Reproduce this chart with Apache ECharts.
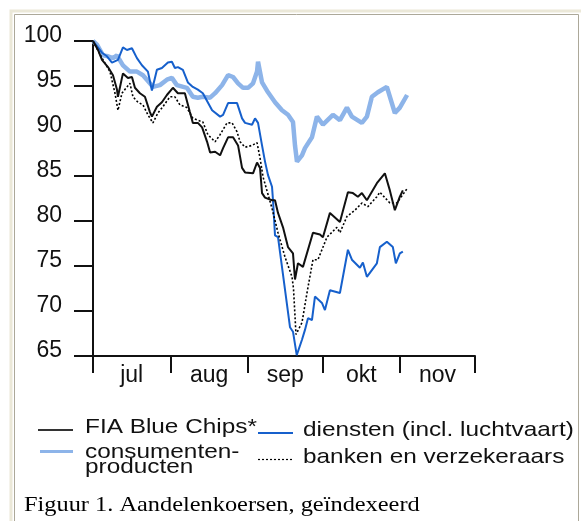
<!DOCTYPE html>
<html lang="nl">
<head>
    <meta charset="UTF-8">
    <title>Aandelenkoersen</title>
    <script src="https://cdn.jsdelivr.net/npm/echarts@6/dist/echarts.min.js"></script>
    <style>
        html, body { margin: 0; padding: 0; background: #fff; }
        #chart { width: 581px; height: 521px; }
    </style>
</head>
<body>
<div id="chart"></div>
<script type="text/javascript">
    // maanden op de x-as (dagen vanaf 1 juli)
    var monthNames = ['jul', 'aug', 'sep', 'okt', 'nov'];
    var monthStarts = [0, 31, 62, 92, 123, 153];
    var monthMids = monthNames.map(function (m, i) { return (monthStarts[i] + monthStarts[i + 1]) / 2; });

    // [dag, index]
    var fiaBlueChips = [[0,100],[2,99],[3.6,97.9],[6,97.1],[8,96.2],[9.6,94.6],[10,93.8],[11.6,95.9],[12,96.4],[14,95.9],
        [15.6,96],[16.8,94.8],[18.8,94.2],[20.8,93.8],[22.8,92.1],[23.6,91.6],[25.6,92.7],[27.6,93.2],[29.6,94],[32,94.8],
        [34,94.2],[36.8,94.2],[38.8,92.1],[40,90.9],[42,90.9],[43.7,90.4],[45.7,88.8],[46.9,87.6],[48.9,87.7],[50.9,87.3],
        [52.1,88.1],[54.1,89.3],[56.1,89.3],[58.1,88.4],[59.7,85.9],[60.9,85.4],[64.1,85.3],[65.7,86.5],[66.9,85.9],[67.7,83.1],
        [68.9,82.6],[71.7,82.3],[72.9,82.3],[74.1,80.9],[76.1,79.3],[78.1,77.1],[80.1,76.4],[80.9,73.5],[82.1,75.3],[84.1,74.9],
        [84.9,74.8],[88.1,78.7],[90.9,78.5],[92.1,78.2],[94.9,80.9],[96.9,80.4],[98.9,79.9],[102.1,83.2],[104.1,83.1],[106.1,82.7],
        [107.7,83.1],[109.7,82.3],[113.7,84.2],[116.9,85.3],[118.9,83.4],[120.9,81.2],[122.9,82.7],[124.1,83.4]];

    var diensten = [[0,100],[3.6,98.7],[5.6,98.3],[7.6,97.6],[10,97.9],[12,99.3],[13.6,99],[15.6,99.2],[17.6,98.1],[19.6,97.3],
        [22,96.6],[23.6,94.5],[25.6,96.8],[27.6,97],[30,97.6],[31.6,97.7],[32.8,97],[34,97.1],[36,96.8],[38,95.4],
        [40,94.9],[42,94.6],[44,94.2],[47.7,92.3],[50.9,91.6],[52.1,91.8],[54.1,93.1],[57.7,93.1],[59.7,91.4],[60.9,90.9],
        [63.7,90.7],[64.9,91.4],[66.1,90.9],[67.7,88.4],[68.9,86.6],[70.1,85.1],[71.7,83.8],[72.1,82.3],[72.9,78.4],[74.1,78.2],
        [78.9,68.2],[80.1,67.7],[81.6,65.1],[83.7,66.8],[84.9,67.9],[86.1,69.2],[87.7,69],[88.9,71.6],[91.7,70.9],[92.9,70.1],
        [94.9,72.3],[98.9,72],[102.1,76.8],[103.7,75.7],[106.9,74.8],[108.1,75.4],[109.7,73.8],[113.7,75.3],[114.9,77.1],[117.7,77.7],
        [120.1,77.1],[121.3,75.3],[122.9,76.4],[124.1,76.6]];

    var consumentenproducten = [[0,100],[1.6,99.6],[4,98.4],[6,98.3],[8,98.1],[9.6,98.4],[12,97.3],[14.8,96.6],[17.6,96.6],[20,96.2],
        [22.8,95.3],[24,94.9],[26.8,95.1],[29.6,95.7],[31.6,95.9],[33.6,95.1],[37.6,94.8],[40,93.8],[42,93.7],[44,93.8],
        [46.9,93.7],[48.9,94.2],[51.7,95.1],[54.1,96.2],[56.1,96],[58.1,95.3],[60.1,94.8],[62.1,94.8],[64.1,95.3],[65.7,96.6],
        [66.1,97.7],[67.7,95.4],[70.1,94.3],[72.9,93.2],[75.7,92.3],[78.1,91.8],[80.1,91],[80.9,88.4],[81.7,86.6],[83.7,87.3],
        [84.9,88.1],[87.7,89.3],[89.7,91.6],[92.1,90.7],[96.1,91.8],[98.9,91.2],[101.7,92.6],[103.7,91.6],[107.7,90.9],[109.7,91.6],
        [111.7,93.8],[114.1,94.3],[117.7,94.9],[120.9,92],[122.9,92.6],[125.8,94]];

    var bankenVerzekeraars = [[0,100],[3.6,98.1],[6.8,96.6],[8.8,94.2],[10,92.3],[11.6,94.2],[13.6,94.9],[14.8,95.3],[16,93.8],[18,93.2],
        [20,92.9],[22,91.8],[24,90.9],[26,92],[28,92.7],[30.8,93.8],[32.8,93.8],[34.8,92.9],[37.6,92.6],[40,91.4],
        [42,91.2],[44,91],[46,89.6],[48.9,88.8],[50.9,89.6],[53.7,90.9],[55.7,90.9],[57.7,89.9],[58.9,88.8],[60.9,88.2],
        [63.7,88.4],[65.7,88.7],[66.9,87],[68.1,84.9],[71.7,81.4],[74.1,78.7],[76.9,76],[79.7,73.8],[80.3,72.5],[81.3,67.4],
        [83.7,68.7],[85.7,72],[88.1,75.7],[90.1,75.7],[93.7,78.2],[97.7,79.3],[98.9,78.7],[101.7,80.5],[104.9,81.2],[107.7,82],
        [110.1,81.6],[113.7,82.7],[114.9,83.2],[118.9,82],[121.7,82],[125.8,83.6]];

    var font = '"Liberation Sans", Arial, sans-serif';
    var ink = '#111';
    var cBlack = '#111', cBlue = '#1660cc', cLight = '#8db4e9';

    // legenda: tekst iets breed getrokken zoals in het origineel
    function legendLine(x1, x2, y, color, width, dash) {
        return { type: 'line', silent: true, shape: { x1: x1, y1: y, x2: x2, y2: y },
                 style: { stroke: color, lineWidth: width, lineDash: dash || null } };
    }
    function legendText(x, y, text) {
        return { type: 'text', silent: true, x: x, y: y, scaleX: 1.16,
                 style: { text: text, fill: ink, font: '21px ' + font, verticalAlign: 'middle' } };
    }

    var myChart = echarts.init(document.getElementById('chart'));

    var option = {
        animation: false,
        backgroundColor: '#fff',
        grid: { left: 93, top: 41, width: 382, height: 315, outerBoundsMode: 'none' },
        xAxis: {
            type: 'value',
            min: 0,
            max: 153,
            axisLine: { show: true, onZero: false, lineStyle: { color: ink, width: 2 } },
            axisTick: { show: true, customValues: monthStarts, length: 17, lineStyle: { color: ink, width: 2 } },
            axisLabel: {
                customValues: monthMids,
                formatter: function (v) { return monthNames[monthMids.indexOf(v)]; },
                fontSize: 23, fontFamily: font, color: ink, margin: 8
            },
            splitLine: { show: false }
        },
        yAxis: {
            type: 'value',
            min: 65,
            max: 100,
            interval: 5,
            axisLine: { show: true, onZero: false, lineStyle: { color: ink, width: 2 } },
            axisTick: { show: true, length: 19, lineStyle: { color: ink, width: 2 } },
            axisLabel: { fontSize: 23, fontFamily: font, color: ink, margin: 31, verticalAlign: 'bottom', lineHeight: 11 },
            splitLine: { show: false }
        },
        graphic: [
            { type: 'rect', silent: true, shape: { x: 11, y: 11, width: 620, height: 600 },
              style: { fill: null, stroke: '#ebe8d8', lineWidth: 3 } },
            { type: 'rect', silent: true, shape: { x: 14.5, y: 14.5, width: 564, height: 600 },
              style: { fill: null, stroke: '#aca899', lineWidth: 1 } },

            legendLine(38, 73, 430, '#333', 2),
            legendText(85, 427.5, 'FIA Blue Chips*'),
            legendLine(258, 293, 433, cBlue, 2),
            legendText(303, 430.7, 'diensten (incl. luchtvaart)'),
            legendLine(40, 73, 451.5, cLight, 3),
            legendText(85, 452.4, 'consumenten-'),
            legendText(85, 467.4, 'producten'),
            legendLine(258, 292, 459.5, '#000', 1.2, [2, 2]),
            legendText(303, 457.4, 'banken en verzekeraars'),

            { type: 'text', silent: true, x: 24, y: 505.5, scaleX: 1.16,
              style: { text: 'Figuur 1. Aandelenkoersen, geïndexeerd', fill: '#000',
                       font: '21px "Liberation Serif", "Times New Roman", serif', verticalAlign: 'middle' } }
        ],
        series: [
            { name: 'consumentenproducten', type: 'line', data: consumentenproducten, symbol: 'none', showSymbol: false,
              lineStyle: { color: cLight, width: 4.5 } },
            { name: 'diensten (incl. luchtvaart)', type: 'line', data: diensten, symbol: 'none', showSymbol: false,
              lineStyle: { color: cBlue, width: 2 } },
            { name: 'banken en verzekeraars', type: 'line', data: bankenVerzekeraars, symbol: 'none', showSymbol: false,
              lineStyle: { color: '#000', width: 1.6, type: [2, 2] } },
            { name: 'FIA Blue Chips*', type: 'line', data: fiaBlueChips, symbol: 'none', showSymbol: false,
              lineStyle: { color: cBlack, width: 2 } }
        ]
    };
    myChart.setOption(option);
</script>
</body>
</html>
